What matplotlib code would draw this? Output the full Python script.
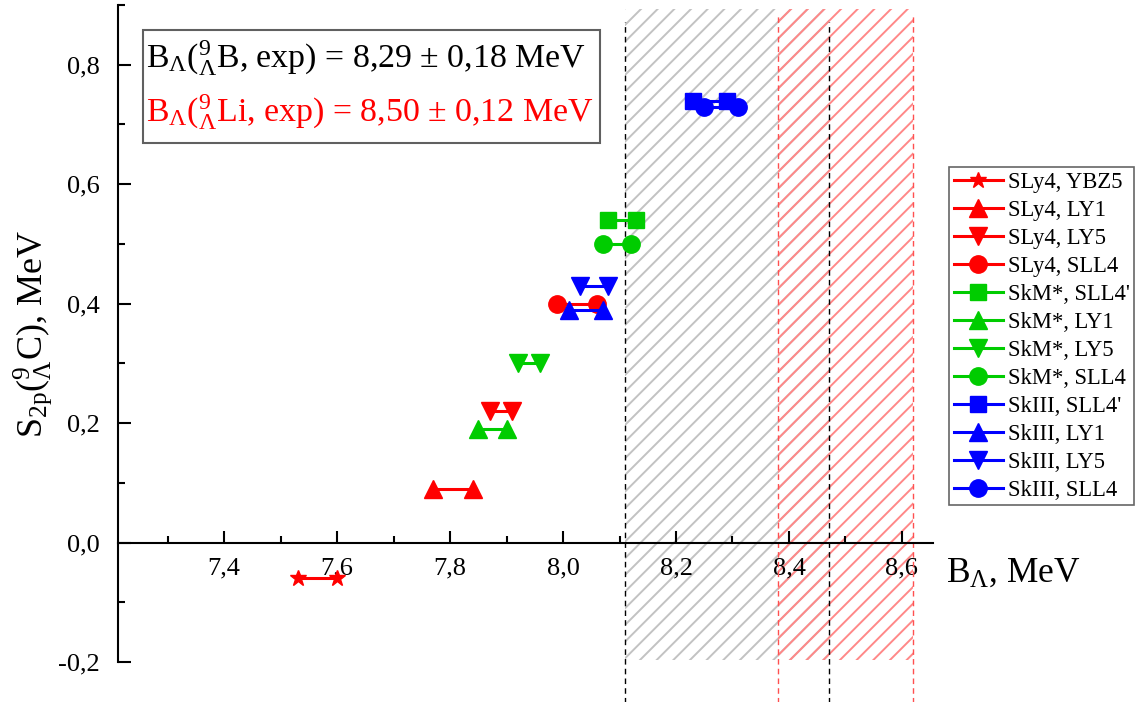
import numpy as np
import matplotlib
matplotlib.use("Agg")
import matplotlib.pyplot as plt
from matplotlib.patches import Rectangle
from matplotlib.ticker import FuncFormatter, MultipleLocator

plt.rcParams['font.family'] = ['Liberation Serif', 'DejaVu Serif']
plt.rcParams['mathtext.fontset'] = 'custom'
plt.rcParams['mathtext.rm'] = 'Liberation Serif'
plt.rcParams['mathtext.it'] = 'Liberation Serif:italic'
plt.rcParams['mathtext.default'] = 'rm'
plt.rcParams['hatch.linewidth'] = 1.4

# данные: B_Lambda для двух ядер (левая и правая точка) и S_2p
labels = ["SLy4, YBZ5", "SLy4, LY1", "SLy4, LY5", "SLy4, SLL4",
          "SkM*, SLL4'", "SkM*, LY1", "SkM*, LY5", "SkM*, SLL4",
          "SkIII, SLL4'", "SkIII, LY1", "SkIII, LY5", "SkIII, SLL4"]
b_left = [7.53, 7.77, 7.87, 7.99, 8.08, 7.85, 7.92, 8.07, 8.23, 8.01, 8.03, 8.25]
b_right = [7.60, 7.84, 7.91, 8.06, 8.13, 7.90, 7.96, 8.12, 8.29, 8.07, 8.08, 8.31]
s2p = [-0.06, 0.09, 0.22, 0.40, 0.54, 0.19, 0.30, 0.50, 0.74, 0.39, 0.43, 0.73]

# эксперимент
b_exp_B = 8.29
db_exp_B = 0.18
b_exp_Li = 8.50
db_exp_Li = 0.12

red = '#ff0000'
green = '#00cc00'
blue = '#0000ff'
colors = [red] * 4 + [green] * 4 + [blue] * 4
markers = ['*', '^', 'v', 'o', 's', '^', 'v', 'o', 's', '^', 'v', 'o']
msize = {'*': 12, '^': 13, 'v': 13, 'o': 12.5, 's': 11.5}

W, H = 1136, 702
fig = plt.figure(figsize=(W / 100, H / 100), dpi=100)
ax = fig.add_axes([118 / W, 1 - 662 / H, (933 - 118) / W, (662 - 5) / H])

# заштрихованные области эксперимента
gray_h = '#c2c2c2'
red_h = '#ff8888'
ax.add_patch(Rectangle((b_exp_B - db_exp_B, -0.197), 2 * db_exp_B, 1.09,
                       hatch='//', facecolor='none', edgecolor=gray_h,
                       linewidth=0, zorder=1))
ax.add_patch(Rectangle((b_exp_Li - db_exp_Li, -0.197), 2 * db_exp_Li, 1.09,
                       hatch='//', facecolor='none', edgecolor=red_h,
                       linewidth=0, zorder=1))
for xv in (b_exp_B - db_exp_B, b_exp_B + db_exp_B):
    ax.plot([xv, xv], [-0.27, 0.872], color='black', lw=1,
            ls=(0, (4, 3)), clip_on=False, zorder=2)
for xv in (b_exp_Li - db_exp_Li, b_exp_Li + db_exp_Li):
    ax.plot([xv, xv], [-0.27, 0.887], color='#ff5050', lw=1,
            ls=(0, (4, 3)), clip_on=False, zorder=2)

handles = []
for i in range(len(labels)):
    h, = ax.plot([b_left[i], b_right[i]], [s2p[i], s2p[i]],
                 color=colors[i], marker=markers[i],
                 markersize=msize[markers[i]], lw=2.2, zorder=3,
                 clip_on=False)
    handles.append(h)

ax.set_xlim(7.212, 8.655)
ax.set_ylim(-0.2, 0.9)

ax.spines['top'].set_visible(False)
ax.spines['right'].set_visible(False)
ax.spines['bottom'].set_position(('data', 0))
ax.spines['left'].set_bounds(-0.2, 0.9)
for s in ('left', 'bottom'):
    ax.spines[s].set_linewidth(1.5)

comma = FuncFormatter(lambda v, p: ('%.1f' % v).replace('.', ','))
ax.xaxis.set_major_locator(MultipleLocator(0.2))
ax.xaxis.set_minor_locator(MultipleLocator(0.1))
ax.yaxis.set_major_locator(MultipleLocator(0.2))
ax.yaxis.set_minor_locator(MultipleLocator(0.1))
ax.xaxis.set_major_formatter(comma)
ax.yaxis.set_major_formatter(comma)
ax.tick_params(which='both', direction='in', width=1.5, labelsize=19)
ax.tick_params(which='major', length=9)
ax.tick_params(which='minor', length=5)
ax.tick_params(axis='x', which='major', pad=11)
ax.tick_params(axis='y', which='major', pad=13)

ax.set_ylabel(r"S$_{2p}$(${}^{9}_{\Lambda}$C), MeV", fontsize=26)
ax.yaxis.set_label_coords(-0.077, 0.5)
fig.text(946 / W, 1 - 582 / H, r"B$_{\Lambda}$, MeV", fontsize=25.5,
         ha='left', va='baseline')

# рамка с экспериментальными значениями
fig.add_artist(Rectangle((143 / W, 1 - 143 / H), (600 - 143) / W, (143 - 30) / H,
                         transform=fig.transFigure, facecolor='white',
                         edgecolor='#606060', linewidth=1.5))
fig.text(146 / W, 1 - 68 / H,
         r"B$_{\Lambda}$(${}^{9}_{\Lambda}$B, exp) = 8,29 $\pm$ 0,18 MeV",
         fontsize=24.4, color='black', ha='left', va='baseline')
fig.text(146 / W, 1 - 122 / H,
         r"B$_{\Lambda}$(${}^{9}_{\Lambda}$Li, exp) = 8,50 $\pm$ 0,12 MeV",
         fontsize=24.4, color=red, ha='left', va='baseline')

leg = fig.legend(handles, labels, loc='upper left',
                 bbox_to_anchor=(949 / W, 1 - 167 / H), fontsize=16.3,
                 numpoints=1, handlelength=2.2, handletextpad=0.2,
                 labelspacing=0.31, borderpad=0.2, borderaxespad=0,
                 fancybox=False, frameon=True)
leg.get_frame().set_edgecolor('#404040')
leg.get_frame().set_linewidth(1.2)

fig.savefig('out.png', dpi=100)
